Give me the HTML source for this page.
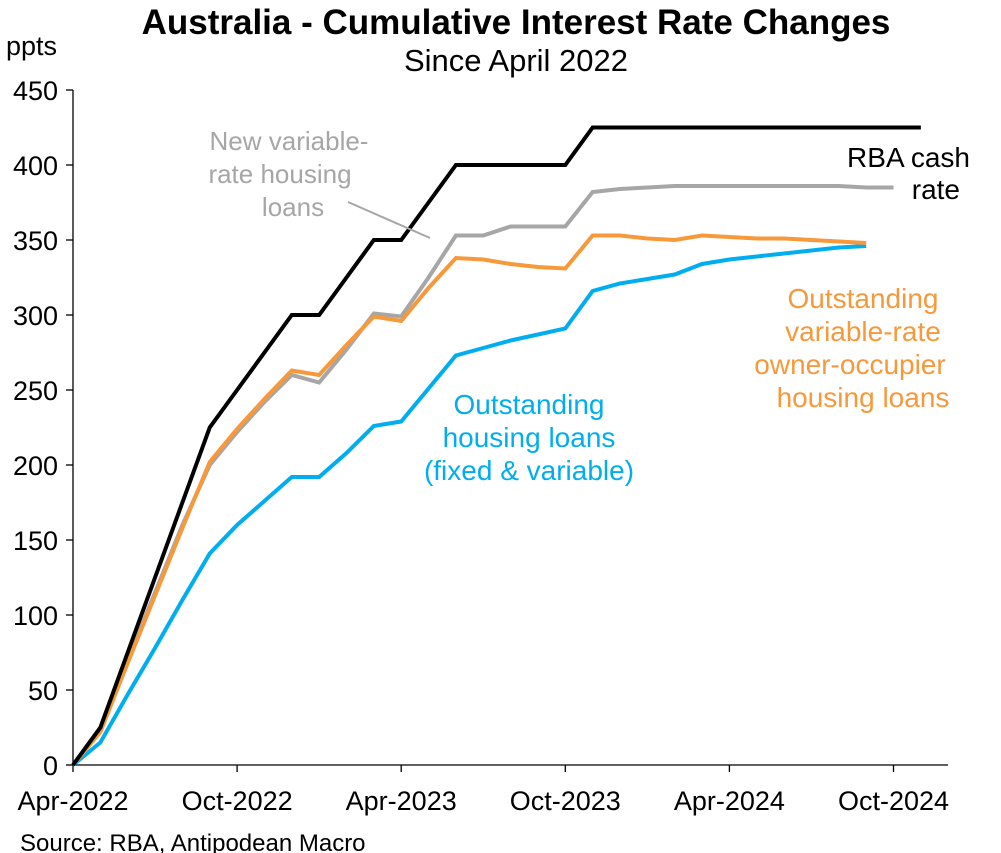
<!DOCTYPE html>
<html><head><meta charset="utf-8"><style>
body{margin:0;background:#fff;}
svg{display:block;font-family:"Liberation Sans",Arial,sans-serif;}
</style></head><body>
<svg id="chart" width="1001" height="853" viewBox="0 0 1001 853">
<text x="516" y="34" text-anchor="middle" font-size="35" font-weight="bold">Australia - Cumulative Interest Rate Changes</text>
<text x="516" y="71" text-anchor="middle" font-size="31">Since April 2022</text>
<text x="6" y="55" font-size="27">ppts</text>
<g id="axes"></g>
<g id="series"></g>
<line x1="348" y1="202" x2="430" y2="238" stroke="#a6a6a6" stroke-width="2"/>
<g font-size="28" text-anchor="middle">
<text fill="#a6a6a6" font-size="26"><tspan x="289" y="150">New variable-</tspan><tspan x="280" y="183">rate housing</tspan><tspan x="293" y="216">loans</tspan></text>
<text fill="#000" text-anchor="end"><tspan x="970" y="167">RBA cash</tspan><tspan x="960" y="199">rate</tspan></text>
<text fill="#f7993b"><tspan x="863" y="308">Outstanding</tspan><tspan x="863" y="341">variable-rate</tspan><tspan x="850" y="374">owner-occupier</tspan><tspan x="863" y="407">housing loans</tspan></text>
<text fill="#00aeef"><tspan x="529" y="414">Outstanding</tspan><tspan x="529" y="447">housing loans</tspan><tspan x="529" y="480">(fixed &amp; variable)</tspan></text>
</g>
<text x="20" y="851" font-size="24">Source: RBA, Antipodean Macro</text>
</svg>
<script>
const yTicks = [0,50,100,150,200,250,300,350,400,450];
const xTickLabels = ["Apr-2022","Oct-2022","Apr-2023","Oct-2023","Apr-2024","Oct-2024"];
const xTickMonths = [0,6,12,18,24,30];
const cashRate = [0,25,75,125,175,225,250,275,300,300,325,350,350,375,400,400,400,400,400,425,425,425,425,425,425,425,425,425,425,425,425,425];
const newVariable = [0,25,70,115,160,200,222,242,260,255,277,301,299,325,353,353,359,359,359,382,384,385,386,386,386,386,386,386,386,385,385];
const outVariable = [0,22,68,113,158,202,224,244,263,260,280,299,296,318,338,337,334,332,331,353,353,351,350,353,352,351,351,350,349,348];
const outHousing = [0,15,47,78,110,141,160,176,192,192,208,226,229,251,273,278,283,287,291,316,321,324,327,334,337,339,341,343,345,346];

const NS="http://www.w3.org/2000/svg";
const x0=73, mpx=27.35, y0=765, upx=1.5;
const xs=m=>x0+m*mpx, ys=v=>y0-v*upx;
const axes=document.getElementById('axes');
function mk(tag,attrs,parent){const e=document.createElementNS(NS,tag);for(const k in attrs)e.setAttribute(k,attrs[k]);parent.appendChild(e);return e;}
const ya=mk('line',{x1:x0,y1:ys(450),x2:x0,y2:y0,stroke:'#000','stroke-width':1.3},axes);


const xa=mk('line',{x1:x0,y1:y0,x2:948,y2:y0,stroke:'#000','stroke-width':1.3},axes);


yTicks.forEach(v=>{
  mk('line',{x1:x0-7,y1:ys(v),x2:x0,y2:ys(v),stroke:'#000','stroke-width':1.3},axes);
  const t=mk('text',{x:x0-15,y:ys(v)+10,'text-anchor':'end','font-size':27},axes);
  t.textContent=v;
  
  
});
xTickMonths.forEach((m,i)=>{
  mk('line',{x1:xs(m),y1:y0,x2:xs(m),y2:y0+7,stroke:'#000','stroke-width':1.3},axes);
  const t=mk('text',{x:xs(m),y:y0+45,'text-anchor':'middle','font-size':27},axes);
  t.textContent=xTickLabels[i];
  
  
});
const sg=document.getElementById('series');
function line(data,color,name){
  const p=mk('polyline',{points:data.map((v,i)=>xs(i)+','+ys(v)).join(' '),fill:'none',stroke:color,'stroke-width':4,'stroke-linejoin':'miter'},sg);
  
  
}
line(outHousing,'#00aeef','line-outstanding-housing-loans');
line(newVariable,'#a6a6a6','line-new-variable-loans');
line(outVariable,'#f7993b','line-outstanding-variable-loans');
line(cashRate,'#000','line-rba-cash-rate');
</script>
</body></html>
